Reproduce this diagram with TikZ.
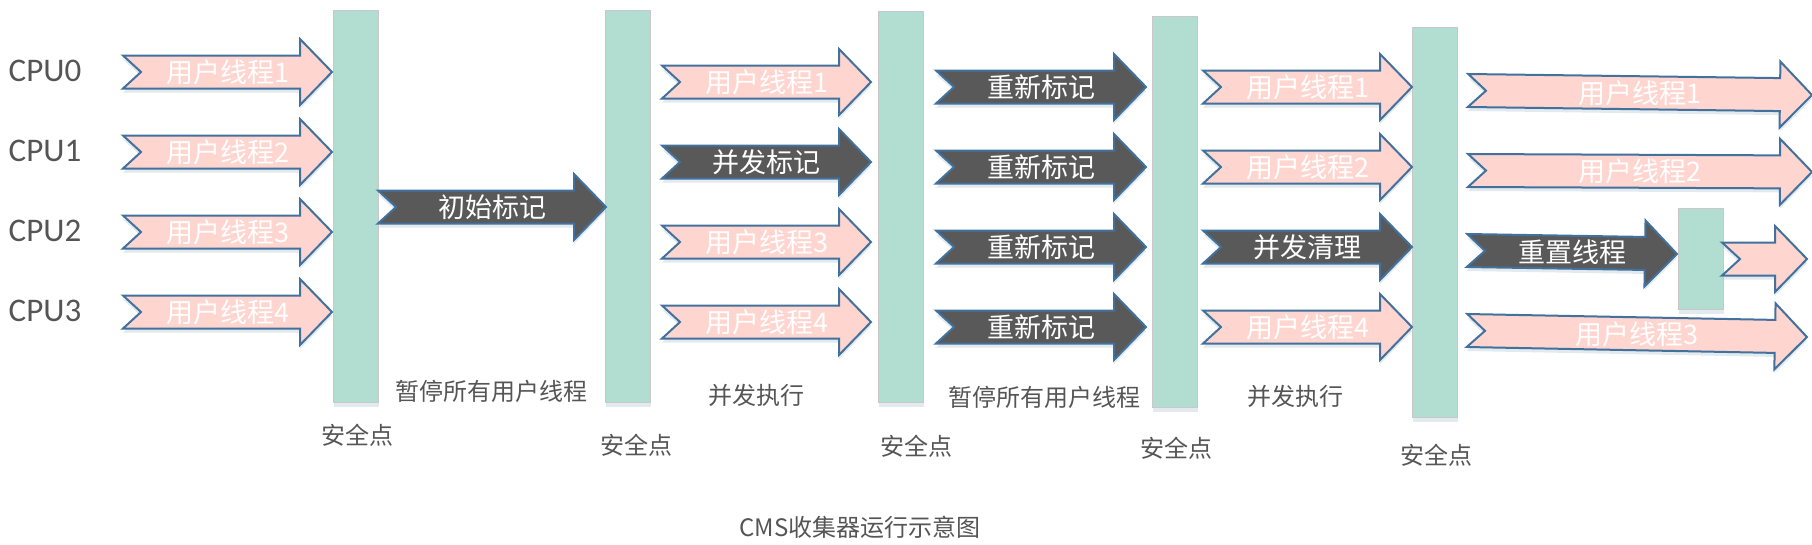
\documentclass[tikz,border=0pt]{standalone}
\usepackage{fontspec}
\setmainfont{Noto Sans CJK SC}
\newfontfamily\cpufont{Carlito}
\usetikzlibrary{shadows}

\definecolor{barfill}{RGB}{178,221,209}
\definecolor{bargray}{RGB}{200,200,200}
\definecolor{threadpink}{RGB}{255,213,207}
\definecolor{edgeblue}{RGB}{65,113,156}
\definecolor{gcgray}{RGB}{89,89,89}
\definecolor{labelgray}{RGB}{85,85,85}

% block arrow with notched tail: [scope opts]{style}{name}{tail x}{tip x}{y}{text}
\newcommand{\blockarrow}[7][]{%
  \begin{scope}[shift={(#4,#6)}, #1]
    \draw[#2] (0,-16.5) -- (#5-#4-32,-16.5) -- (#5-#4-32,-33) -- (#5-#4,0)
      -- (#5-#4-32,33) -- (#5-#4-32,16.5) -- (0,16.5) -- (18,0) -- cycle;
    \node[#2 text] (#3) at ({(#5-#4)/2},0) {#7};
  \end{scope}}

\begin{document}
\begin{tikzpicture}[x=1pt, y=-1pt,
    softshadow/.style={drop shadow={shadow xshift=0pt, shadow yshift=-4pt, opacity=.25, fill=edgeblue!60}},
    bar/.style={draw=bargray, fill=barfill, line width=1pt, inner sep=0pt,
        minimum width=45pt, anchor=north west, softshadow},
    user/.style={draw=edgeblue, fill=threadpink, line width=2pt, softshadow},
    user text/.style={text=white, inner sep=0pt, font=\fontsize{27}{30}\selectfont},
    gc/.style={draw=edgeblue, fill=gcgray, line width=2pt, softshadow},
    gc text/.style={text=white, inner sep=0pt, font=\fontsize{27}{30}\selectfont},
    cpu/.style={text=labelgray, font=\cpufont\fontsize{33}{36}\selectfont},
    phase/.style={text=labelgray, inner sep=0pt, font=\fontsize{24}{28}\selectfont}]
    \useasboundingbox (0,0) rectangle (1812,544);

    % Safepoints
    \node[bar, minimum height=392pt] (sp1) at (333,10) {};
    \node[bar, minimum height=392pt] (sp2) at (605,10) {};
    \node[bar, minimum height=391pt] (sp3) at (878,11) {};
    \node[bar, minimum height=391pt] (sp4) at (1152,16) {};
    \node[bar, minimum height=390pt] (sp5) at (1412,27) {};
    \node[bar, minimum height=101pt] (sp6) at (1678,208) {};

    \node[phase] (sl1) at (357,435) {安全点};
    \node[phase] (sl2) at (636,445) {安全点};
    \node[phase] (sl3) at (916,446) {安全点};
    \node[phase] (sl4) at (1176,448) {安全点};
    \node[phase] (sl5) at (1436,455) {安全点};

    % CPUs
    \node[cpu] (cpu0) at (45,71) {CPU0};
    \node[cpu] (cpu1) at (45,151) {CPU1};
    \node[cpu] (cpu2) at (45,231) {CPU2};
    \node[cpu] (cpu3) at (45,311) {CPU3};

    % User threads
    \blockarrow{user}{a1}{123}{332}{72}{用户线程1}
    \blockarrow{user}{a2}{123}{332}{152}{用户线程2}
    \blockarrow{user}{a3}{123}{332}{232}{用户线程3}
    \blockarrow{user}{a4}{123}{332}{312}{用户线程4}

    % Initial mark
    \blockarrow{gc}{im}{378}{606}{207}{初始标记}

    % Concurrent mark
    \blockarrow{user}{b1}{662}{871}{82}{用户线程1}
    \blockarrow{gc}{cm}{662}{871}{162}{并发标记}
    \blockarrow{user}{b3}{662}{871}{242}{用户线程3}
    \blockarrow{user}{b4}{662}{871}{322}{用户线程4}

    % Remark
    \blockarrow{gc}{rm1}{936}{1146}{87}{重新标记}
    \blockarrow{gc}{rm2}{936}{1146}{167}{重新标记}
    \blockarrow{gc}{rm3}{936}{1146}{247}{重新标记}
    \blockarrow{gc}{rm4}{936}{1146}{327}{重新标记}

    % Concurrent sweep
    \blockarrow{user}{c1}{1203}{1412}{87}{用户线程1}
    \blockarrow{user}{c2}{1203}{1412}{167}{用户线程2}
    \blockarrow{gc}{cs}{1203}{1412}{247}{并发清理}
    \blockarrow{user}{c4}{1203}{1412}{327}{用户线程4}

    % Reset
    \blockarrow[rotate=-0.75]{user}{d1}{1468}{1812}{90.5}{用户线程1}
    \blockarrow[rotate=-0.25]{user}{d2}{1468}{1812}{170.5}{用户线程2}
    \blockarrow[rotate=-0.95]{gc}{rt}{1467}{1677}{250.5}{重置线程}
    \blockarrow{user}{d3}{1722}{1807}{259}{}
    \blockarrow[rotate=-1.1]{user}{d4}{1467}{1807}{330.5}{用户线程3}

    % Phases
    \node[phase] (p1) at (491,391) {暂停所有用户线程};
    \node[phase] (p2) at (756,395) {并发执行};
    \node[phase] (p3) at (1044,397) {暂停所有用户线程};
    \node[phase] (p4) at (1295,396) {并发执行};

    \node[phase] (title) at (860,527) {CMS收集器运行示意图};
\end{tikzpicture}
\end{document}
